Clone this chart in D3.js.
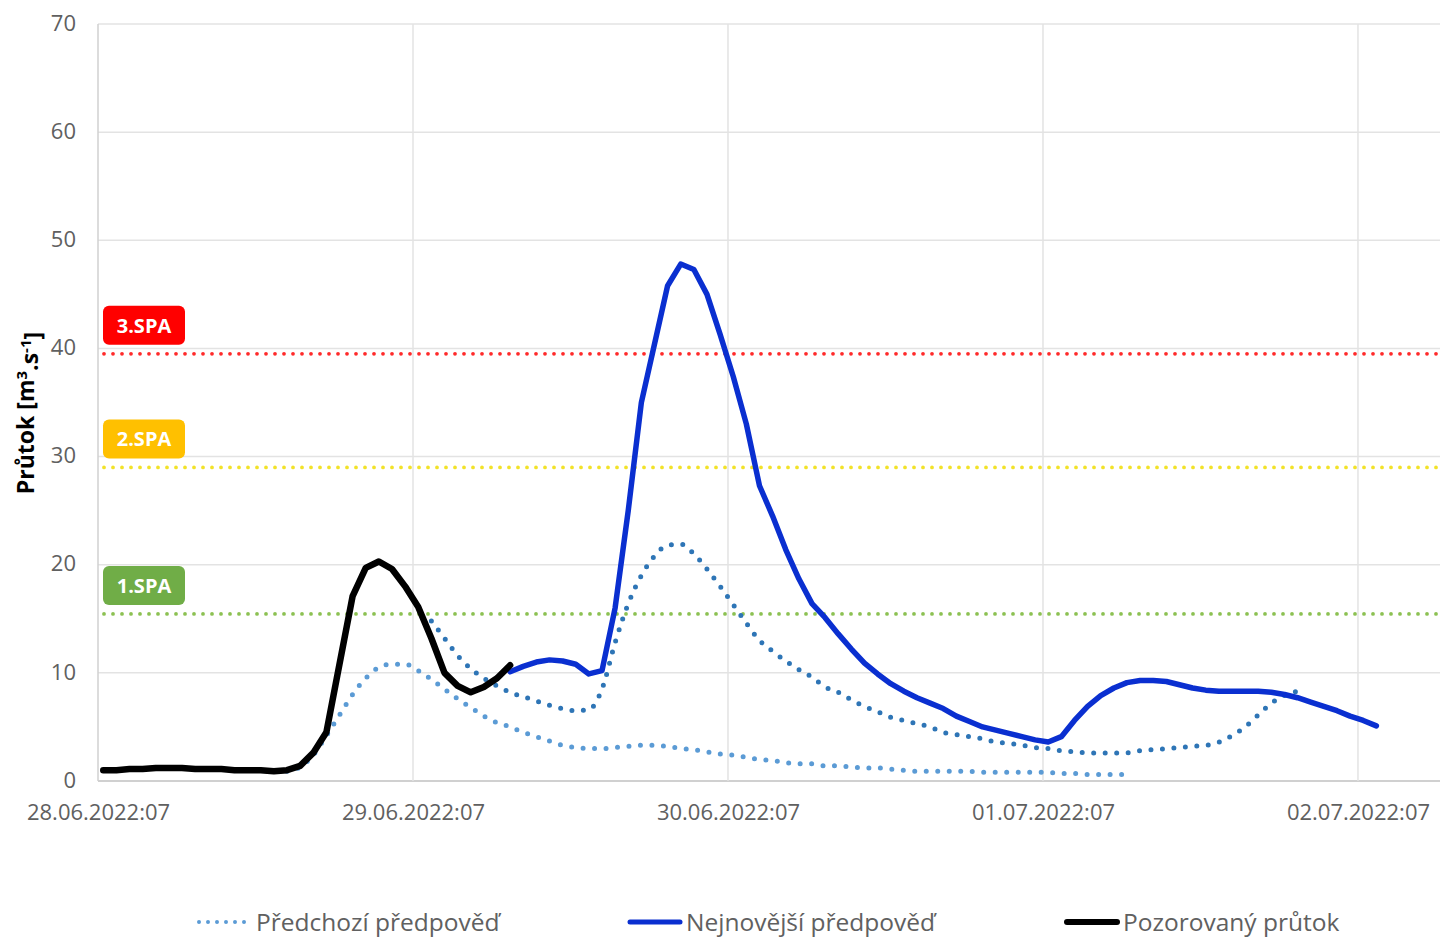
<!DOCTYPE html>
<html>
<head>
<meta charset="utf-8">
<script src="https://cdn.jsdelivr.net/npm/d3@7"></script>
<style>
  body { margin: 0; background: #fff; }
  text { font-family: "Open Sans", "Noto Sans", sans-serif; }
</style>
</head>
<body>
<div id="chart"></div>
<script>
// hours counted from 28.06.2022 07:00
var dayTicks = [0, 24, 48, 72, 96];
var dayLabels = ["28.06.2022:07", "29.06.2022:07", "30.06.2022:07", "01.07.2022:07", "02.07.2022:07"];
var yTicks = [0, 10, 20, 30, 40, 50, 60, 70];

// pozorovany prutok, hourly from obsStart
var obsStart = 0.4;
var observed = [1.0, 1.0, 1.1, 1.1, 1.2, 1.2, 1.2, 1.1, 1.1, 1.1, 1.0, 1.0, 1.0, 0.9, 1.0, 1.4,
  2.6, 4.5, 10.8, 17.1, 19.7, 20.3, 19.6, 18.0, 16.1, 13.2, 10.0, 8.8, 8.2, 8.7, 9.5, 10.7];

// nejnovejsi predpoved
var fcStart = 31.4;
var latest = [10.1, 10.6, 11.0, 11.2, 11.1, 10.8, 9.9, 10.2, 16.0, 25.0, 35.0, 40.4, 45.8, 47.8,
  47.3, 45.0, 41.3, 37.4, 33.0, 27.3, 24.5, 21.4, 18.7, 16.4, 15.1, 13.6, 12.2, 10.9, 9.9, 9.0,
  8.3, 7.7, 7.2, 6.7, 6.0, 5.5, 5.0, 4.7, 4.4, 4.1, 3.8, 3.6, 4.1, 5.6, 6.9, 7.9, 8.6, 9.1, 9.3,
  9.3, 9.2, 8.9, 8.6, 8.4, 8.3, 8.3, 8.3, 8.3, 8.2, 8.0, 7.7, 7.3, 6.9, 6.5, 6.0, 5.6, 5.1];

// predchozi predpovedi
var prev1Start = 14.4;
var previous1 = [0.9, 1.3, 2.4, 4.2, 6.1, 8.0, 9.5, 10.5, 10.8, 10.8, 10.2, 9.4, 8.5, 7.6, 6.8,
  6.0, 5.4, 5.0, 4.5, 4.1, 3.7, 3.3, 3.1, 3.0, 3.0, 3.1, 3.2, 3.3, 3.3, 3.2, 3.0, 2.9, 2.7, 2.5,
  2.4, 2.2, 2.0, 1.9, 1.7, 1.6, 1.6, 1.4, 1.4, 1.3, 1.2, 1.2, 1.1, 1.0, 0.9, 0.9, 0.9, 0.9, 0.9,
  0.8, 0.8, 0.8, 0.8, 0.8, 0.8, 0.7, 0.7, 0.6, 0.6, 0.6, 0.6];

var prev2Start = 25.4;
var previous2 = [14.8, 13.2, 11.6, 10.4, 9.5, 8.8, 8.2, 7.8, 7.4, 7.0, 6.7, 6.5, 6.6, 8.5, 12.8,
  16.4, 19.0, 20.8, 21.8, 21.9, 21.0, 19.6, 18.0, 16.3, 14.6, 13.0, 12.0, 11.1, 10.3, 9.6, 8.7,
  8.2, 7.5, 6.9, 6.4, 5.9, 5.6, 5.3, 5.0, 4.5, 4.3, 4.1, 3.9, 3.6, 3.5, 3.3, 3.1, 3.0, 2.8, 2.7,
  2.6, 2.6, 2.6, 2.6, 2.8, 2.9, 3.0, 3.1, 3.2, 3.3, 3.6, 4.2, 5.0, 6.1, 7.2, 7.9, 8.3];

// stupne povodnove aktivity
var spaNames = ["1.SPA", "2.SPA", "3.SPA"];
var spaLevels = [15.45, 29.0, 39.5];
var spaColors = ["#70ad47", "#ffc000", "#ff0000"];
var spaLineColors = ["#8cc152", "#f2e229", "#ff2a2a"];

var legendNames = ["Předchozí předpověď", "Nejnovější předpověď", "Pozorovaný průtok"];

var width = 1440, height = 939;
var margin = {top: 24, right: 0, bottom: 158, left: 98};

var svg = d3.select("#chart").append("svg")
  .attr("width", width)
  .attr("height", height);

var x = d3.scaleLinear()
  .domain([0, 102.25])
  .range([margin.left, width - margin.right]);

var y = d3.scaleLinear()
  .domain([0, 70])
  .range([height - margin.bottom, margin.top]);

// grid
svg.append("g")
  .selectAll("line")
  .data(yTicks)
  .enter().append("line")
  .attr("x1", margin.left).attr("x2", width)
  .attr("y1", function(d) { return y(d); })
  .attr("y2", function(d) { return y(d); })
  .style("stroke", function(d) { return d == 0 ? "#d0d0d0" : "#e3e3e3"; })
  .style("stroke-width", function(d) { return d == 0 ? 2 : 1.5; });

svg.append("g")
  .selectAll("line")
  .data(dayTicks)
  .enter().append("line")
  .attr("x1", function(d) { return x(d); })
  .attr("x2", function(d) { return x(d); })
  .attr("y1", y(70)).attr("y2", y(0))
  .style("stroke", function(d) { return d == 0 ? "#d0d0d0" : "#e3e3e3"; })
  .style("stroke-width", 1.5);

// axes (labels only)
var yAxis = svg.append("g")
  .attr("transform", "translate(" + margin.left + ",0)")
  .call(d3.axisLeft(y).tickValues(yTicks).tickSize(0).tickPadding(22));
var xAxis = svg.append("g")
  .attr("transform", "translate(0," + y(0) + ")")
  .call(d3.axisBottom(x).tickValues(dayTicks).tickSize(0).tickPadding(23)
    .tickFormat(function(d, i) { return dayLabels[i]; }));

[yAxis, xAxis].forEach(function(a) {
  a.select(".domain").remove();
  a.selectAll("text")
    .style("font-family", '"Open Sans", sans-serif')
    .style("font-size", "22px")
    .style("fill", "#606060");
});
// Excel sets the 0 label a touch higher than the x labels
yAxis.selectAll("text").attr("dy", "0.28em");

// SPA lines + labels
spaLevels.forEach(function(v, i) {
  svg.append("line")
    .attr("x1", margin.left + 6).attr("x2", width)
    .attr("y1", y(v)).attr("y2", y(v))
    .style("stroke", spaLineColors[i])
    .style("stroke-width", 3.8)
    .style("stroke-linecap", "round")
    .style("stroke-dasharray", "0 9");

  svg.append("rect")
    .attr("x", margin.left + 5)
    .attr("y", y(v) - 48)
    .attr("width", 82)
    .attr("height", 39)
    .attr("rx", 6)
    .style("fill", spaColors[i]);

  svg.append("text")
    .attr("x", margin.left + 46)
    .attr("y", y(v) - 28)
    .attr("dy", "0.35em")
    .attr("text-anchor", "middle")
    .style("font-size", "20px")
    .style("font-weight", "bold")
    .style("fill", "#fff")
    .text(spaNames[i]);
});

function series(start, values) {
  return values.map(function(v, i) { return [start + i, v]; });
}

var line = d3.line()
  .x(function(d) { return x(d[0]); })
  .y(function(d) { return y(d[1]); });

var smooth = d3.line()
  .curve(d3.curveMonotoneX)
  .x(function(d) { return x(d[0]); })
  .y(function(d) { return y(d[1]); });

svg.append("path")
  .datum(series(prev1Start, previous1))
  .attr("d", smooth)
  .style("fill", "none")
  .style("stroke", "#5b9bd5")
  .style("stroke-width", 5)
  .style("stroke-linecap", "round")
  .style("stroke-dasharray", "0 11.5");

svg.append("path")
  .datum(series(prev2Start, previous2))
  .attr("d", smooth)
  .style("fill", "none")
  .style("stroke", "#2e75b6")
  .style("stroke-width", 5)
  .style("stroke-linecap", "round")
  .style("stroke-dasharray", "0 11.5");

svg.append("path")
  .datum(series(fcStart, latest))
  .attr("d", line)
  .style("fill", "none")
  .style("stroke", "#0a2fd0")
  .style("stroke-width", 5.5)
  .style("stroke-linejoin", "round")
  .style("stroke-linecap", "round");

svg.append("path")
  .datum(series(obsStart, observed))
  .attr("d", line)
  .style("fill", "none")
  .style("stroke", "#000")
  .style("stroke-width", 6.5)
  .style("stroke-linejoin", "round")
  .style("stroke-linecap", "round");

// y title
var yTitle = svg.append("text")
  .attr("transform", "translate(34,413) rotate(-90)")
  .attr("text-anchor", "middle")
  .style("font-size", "23px")
  .style("font-weight", "bold")
  .style("fill", "#000");
yTitle.append("tspan").text("Průtok [m");
yTitle.append("tspan").attr("dy", "-0.45em").style("font-size", "15px").text("3");
yTitle.append("tspan").attr("dy", "0.45em").text(".s");
yTitle.append("tspan").attr("dy", "-0.45em").style("font-size", "15px").text("-1");
yTitle.append("tspan").attr("dy", "0.45em").text("]");

// legend
var legendX = [197, 628, 1065];
var legendStyle = [
  {stroke: "#5b9bd5", width: 4, dash: "0 9"},
  {stroke: "#0a2fd0", width: 5, dash: null},
  {stroke: "#000", width: 6, dash: null}
];
var legend = svg.append("g")
  .selectAll("g")
  .data(legendNames)
  .enter().append("g")
  .attr("transform", function(d, i) { return "translate(" + legendX[i] + ",922)"; });

legend.append("line")
  .attr("x1", 2).attr("x2", function(d, i) { return i == 0 ? 50 : 52; })
  .attr("y1", 0).attr("y2", 0)
  .style("stroke", function(d, i) { return legendStyle[i].stroke; })
  .style("stroke-width", function(d, i) { return legendStyle[i].width; })
  .style("stroke-linecap", "round")
  .style("stroke-dasharray", function(d, i) { return legendStyle[i].dash; });

legend.append("text")
  .attr("x", function(d, i) { return i == 0 ? 59 : 58; })
  .attr("dy", "0.35em")
  .style("font-size", "24.5px")
  .style("fill", "#606060")
  .text(function(d) { return d; });
</script>
</body>
</html>
